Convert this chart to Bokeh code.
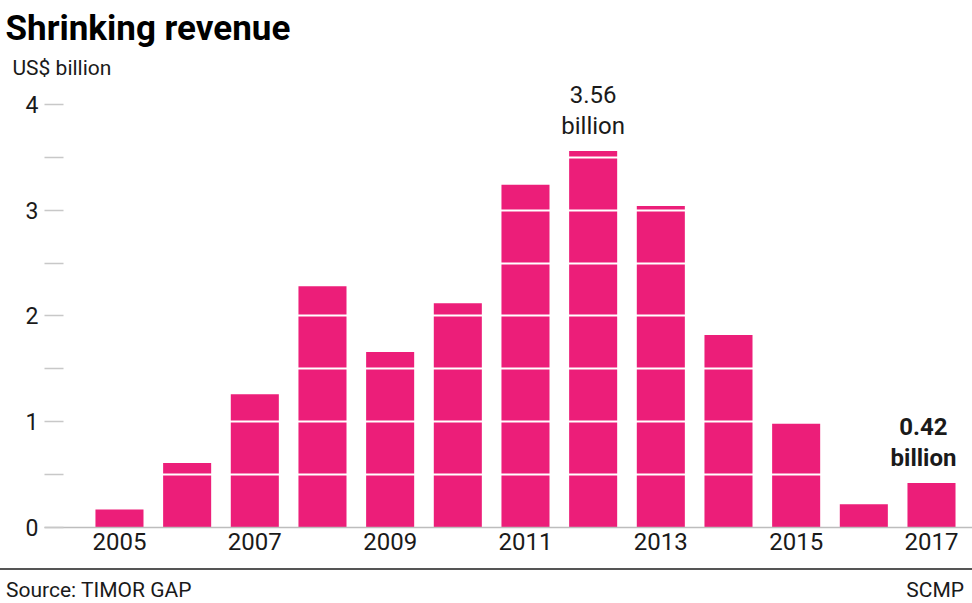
from bokeh.plotting import figure
from bokeh.models import Range1d, FixedTicker, Title, Div, ColumnDataSource
from bokeh.layouts import column
from bokeh.embed import file_html
from bokeh.resources import INLINE
from bokeh.core.properties import value

# ---- data ----
years = [2005, 2006, 2007, 2008, 2009, 2010, 2011, 2012, 2013, 2014, 2015, 2016, 2017]
revenue = [0.17, 0.61, 1.26, 2.28, 1.66, 2.12, 3.24, 3.56, 3.04, 1.82, 0.98, 0.22, 0.42]
x_tick_years = [2005, 2007, 2009, 2011, 2013, 2015, 2017]
y_major_ticks = [0, 1, 2, 3, 4]
y_minor_ticks = [0.5, 1.5, 2.5, 3.5]
grid_levels = [0.5, 1, 1.5, 2, 2.5, 3, 3.5, 4]
note_years = [2012, 2017]
note_values = [3.56, 0.42]
note_texts = ["3.56\nbillion", "0.42\nbillion"]
note_styles = ["normal", "bold"]
note_shift = [0, -8]

PINK = "#EC1E79"
FONT = "Roboto"
TXT = "#1a1a1a"

p = figure(width=972, height=568, output_backend="svg", toolbar_location=None,
           x_range=Range1d(2003.892, 2017.606), y_range=Range1d(0, 4.236),
           min_border_left=44, min_border_right=0, min_border_bottom=41, min_border_top=0)
p.outline_line_color = None
p.xgrid.visible = False
p.ygrid.visible = False

p.vbar(x=years, top=revenue, bottom=0, width=0.71, fill_color=PINK, line_color=None)
p.hspan(y=grid_levels, line_color="white", line_width=2)

src = ColumnDataSource(dict(x=note_years, y=note_values, text=note_texts,
                            style=note_styles, dx=note_shift))
p.text(x="x", y="y", text="text", source=src, text_align="center", text_baseline="bottom",
       y_offset=-11, x_offset="dx", text_font=value(FONT), text_font_size="24px",
       text_font_style="style", text_line_height=1.12, text_color=TXT)

# y axis
ya = p.yaxis[0]
ya.ticker = FixedTicker(ticks=y_major_ticks, minor_ticks=y_minor_ticks)
ya.axis_line_color = None
ya.major_tick_in = 19
ya.major_tick_out = 0
ya.minor_tick_in = 19
ya.minor_tick_out = 0
ya.major_tick_line_color = "#c8c8c8"
ya.minor_tick_line_color = "#c8c8c8"
ya.major_tick_line_width = 1.5
ya.minor_tick_line_width = 1.5
ya.major_label_standoff = 6
ya.major_label_text_font = FONT
ya.major_label_text_font_size = "23px"
ya.major_label_text_color = TXT

# x axis
xa = p.xaxis[0]
xa.ticker = FixedTicker(ticks=x_tick_years)
xa.axis_line_color = "#bdbdbd"
xa.axis_line_width = 1.5
xa.major_tick_in = 0
xa.major_tick_out = 0
xa.minor_tick_line_color = None
xa.major_label_standoff = 5
xa.major_label_text_font = FONT
xa.major_label_text_font_size = "24px"
xa.major_label_text_color = TXT

p.add_layout(Title(text="US$ billion", text_font=FONT, text_font_size="21px",
                   text_font_style="normal", text_color=TXT, align="left", offset=-32,
                   standoff=0), "above")
p.add_layout(Title(text="Shrinking revenue", text_font=FONT, text_font_size="35px",
                   text_font_style="bold", text_color="#000000", align="left", offset=-39),
             "above")

footer = Div(text=('<div style="display:flex;justify-content:space-between;'
                   'border-top:2px solid #555;padding-top:11px;padding-right:8px;'
                   'padding-left:6px;font-family:Roboto;line-height:0.9;'
                   'font-size:21px;color:#1a1a1a;width:972px;box-sizing:border-box;">'
                   '<span>Source: TIMOR GAP</span><span>SCMP</span></div>'),
             width=972, height=35, margin=(0, 0, 0, 0))

layout = column(p, footer, spacing=0)
open("out.html", "w").write(file_html(layout, INLINE))
